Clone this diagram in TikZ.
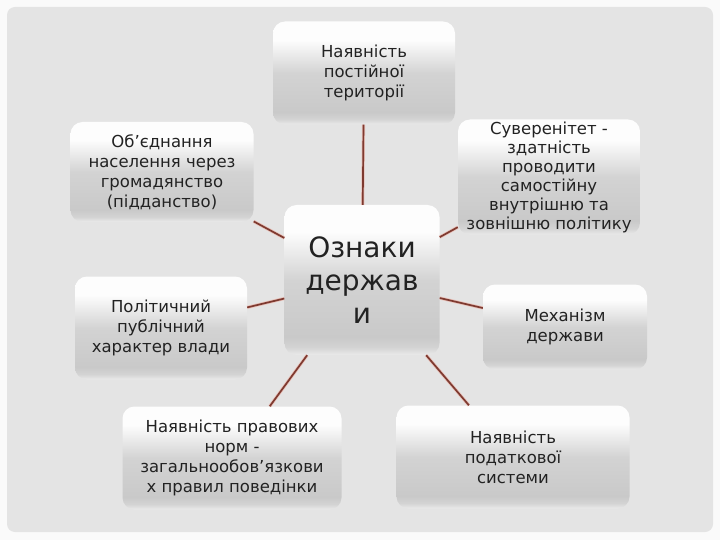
\documentclass[tikz,border=0pt]{standalone}
\usepackage{fontspec}
\setmainfont{DejaVu Sans}
\definecolor{bxA}{HTML}{EAEAEA}
\definecolor{bxB}{HTML}{D4D4D4}
\definecolor{bxC}{HTML}{C9C9C9}
\definecolor{bxD}{HTML}{D3D3D3}
\definecolor{bxE}{HTML}{FDFDFD}
\definecolor{pagebg}{HTML}{FAFAFA}
\definecolor{framebg}{HTML}{E4E4E4}
\definecolor{linkdark}{HTML}{7E3A30}
\definecolor{linkglow}{HTML}{E8C0B8}
\definecolor{txt}{HTML}{222222}
\pgfdeclareverticalshading{boxshade}{100bp}{color(0bp)=(bxA); color(25bp)=(bxA); color(27.5bp)=(bxB); color(31bp)=(bxC); color(50bp)=(bxD); color(66bp)=(bxE); color(75bp)=(bxE); color(100bp)=(bxE)}
\tikzset{
  featbox/.style={rectangle, rounded corners=12pt, shading=boxshade, align=center,
    inner sep=0pt, text=txt, font=\fontsize{16.5}{20}\selectfont},
  glowline/.style={draw=linkglow, line width=3.2pt},
  linkline/.style={draw=linkdark, line width=1.7pt},
}
\begin{document}
\begin{tikzpicture}[x=1pt,y=-1pt]
\useasboundingbox (0,0) rectangle (720,540);
\fill[pagebg] (0,0) rectangle (720,540);
\fill[framebg, rounded corners=8pt] (7,7) rectangle (713,532);

\node[featbox, minimum width=182pt, minimum height=103pt] (T) at (364,73) {Наявність\\постійної\\території};
\node[featbox, minimum width=183pt, minimum height=100pt] (L1) at (162,172) {Об’єднання\\населення через\\громадянство\\(підданство)};
\node[featbox, minimum width=182pt, minimum height=115pt, font=\fontsize{16.5}{19}\selectfont] (S) at (549,177) {Суверенітет -\\здатність\\проводити\\самостійну\\внутрішню та\\зовнішню політику};
\node[featbox, minimum width=155pt, minimum height=150pt, font=\fontsize{28}{33}\selectfont] (C) at (362,280) {Ознаки\\держав\\и};
\node[featbox, minimum width=172pt, minimum height=103pt] (L2) at (161,328) {Політичний\\публічний\\характер влади};
\node[featbox, minimum width=164pt, minimum height=85pt] (M) at (565,327) {Механізм\\держави};
\node[featbox, minimum width=219pt, minimum height=103pt] (BL) at (232,458) {Наявність правових\\норм -\\загальнообов’язкови\\х правил поведінки};
\node[featbox, minimum width=233pt, minimum height=103pt] (BR) at (513,457) {Наявність\\податкової\\системи};

\foreach \n in {T,L1,S,L2,M,BL,BR}{
  \draw[glowline] (C) -- (\n);
  \draw[linkline] (C) -- (\n);
}
\end{tikzpicture}
\end{document}
